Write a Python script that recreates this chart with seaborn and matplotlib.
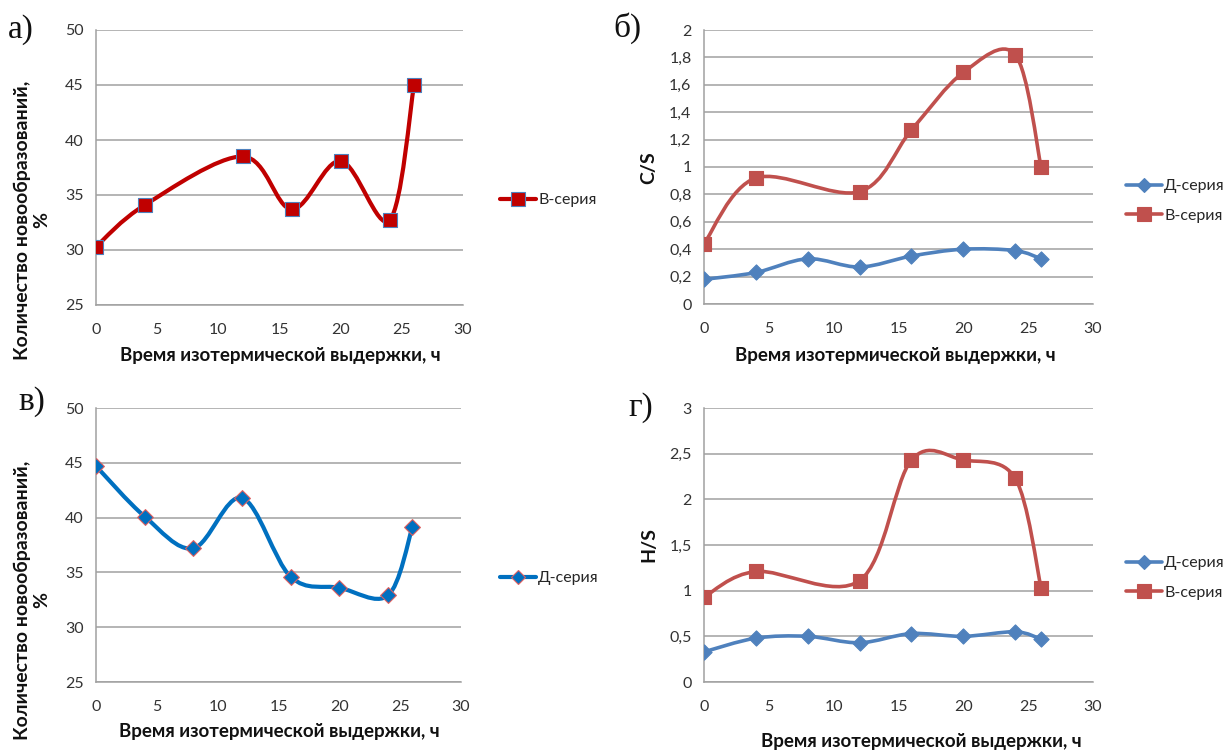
import numpy as np
import pandas as pd
import matplotlib
matplotlib.use("Agg")
import matplotlib.pyplot as plt
import seaborn as sns
from matplotlib.path import Path
from matplotlib.patches import PathPatch
from matplotlib.lines import Line2D
from matplotlib.ticker import FuncFormatter, MultipleLocator

# data
hours_v = [0, 4, 12, 16, 20, 24, 26]
hours_d = [0, 4, 8, 12, 16, 20, 24, 26]

count_v = [30.3, 34.1, 38.5, 33.7, 38.1, 32.7, 45.0]          # а) В-серия
count_d = [44.7, 40.1, 37.2, 41.8, 34.6, 33.6, 32.9, 39.1]    # в) Д-серия

cs_d = [0.18, 0.23, 0.33, 0.27, 0.35, 0.40, 0.39, 0.33]       # б) Д-серия
cs_v = [0.44, 0.92, 0.82, 1.27, 1.69, 1.82, 1.00]             # б) В-серия

hs_d = [0.33, 0.48, 0.50, 0.43, 0.53, 0.50, 0.55, 0.47]       # г) Д-серия
hs_v = [0.93, 1.21, 1.11, 2.43, 2.43, 2.23, 1.03]             # г) В-серия

X_LABEL = "Время изотермической выдержки, ч"
Y_LABEL_COUNT = "Количество новообразований,\n%"

W, H = 1225, 751

sns.set_style("white")
plt.rcParams['font.family'] = ['Lato', 'DejaVu Sans']

fig = plt.figure(figsize=(W / 100, H / 100), dpi=100)


def px_axes(left, top, right, bottom):
    return fig.add_axes([left / W, 1 - bottom / H, (right - left) / W, (bottom - top) / H])


def smooth_path(x, y):
    # excel-style smoothed line: cubic bezier through the points
    pts = np.column_stack([x, y]).astype(float)
    n = len(pts)
    verts = [pts[0]]
    codes = [Path.MOVETO]
    for i in range(n - 1):
        p0 = pts[i - 1] if i > 0 else pts[i]
        p1 = pts[i]
        p2 = pts[i + 1]
        p3 = pts[i + 2] if i + 2 < n else pts[i + 1]
        c1 = p1 + (p2 - p0) / 6
        c2 = p2 - (p3 - p1) / 6
        verts += [c1, c2, p2]
        codes += [Path.CURVE4] * 3
    return Path(verts, codes)


def comma(v, pos):
    return f"{round(v, 2):g}".replace(".", ",")


def style_axes(ax, ymax, ystep):
    ax.set_xlim(0, 30)
    ax.set_ylim(ax.get_ylim()[0], ymax)
    ax.xaxis.set_major_locator(MultipleLocator(5))
    ax.yaxis.set_major_locator(MultipleLocator(ystep))
    ax.yaxis.set_major_formatter(FuncFormatter(comma))
    ax.grid(axis='y', color='#a0a0a0', linewidth=1.1)
    ax.grid(axis='x', visible=False)
    sns.despine(ax=ax)
    for s in ['left', 'bottom']:
        ax.spines[s].set_color('#a0a0a0')
        ax.spines[s].set_linewidth(1.1)
    ax.tick_params(axis='both', direction='out', length=5, width=1.1, color='#a0a0a0',
                   labelsize=11.5, labelcolor='#333333', pad=4)
    ax.tick_params(axis='x', pad=8)
    ax.set_xlabel("")
    ax.set_ylabel("")
    ax.set_axisbelow(True)


def draw_series(ax, x, y, line_color, marker, face, edge, size, lw):
    ax.add_patch(PathPatch(smooth_path(x, y), fill=False, edgecolor=line_color,
                           linewidth=lw, capstyle='round', joinstyle='round', zorder=2))
    sns.scatterplot(x=x, y=y, ax=ax, marker=marker, s=size, color=face,
                    edgecolor=edge, linewidth=0.8, zorder=3, legend=False)


def handle(line_color, marker, face, edge, msize, lw):
    return Line2D([], [], color=line_color, lw=lw, marker=marker, markersize=msize,
                  markerfacecolor=face, markeredgecolor=edge, markeredgewidth=0.8)


def add_legend(ax, handles, labels, x_px, y_px):
    ax.legend(handles=handles, labels=labels, loc='center left',
              bbox_to_anchor=(x_px / W, 1 - y_px / H), bbox_transform=fig.transFigure,
              frameon=False, borderpad=0, borderaxespad=0, handlelength=2.25,
              handletextpad=0.15, labelspacing=0.95, fontsize=11.5)


BLUE = '#4f81bd'
RED = '#c0504d'

# а)
ax_a = px_axes(96, 30, 463, 305)
ax_a.set_ylim(25, 50)
draw_series(ax_a, hours_v, count_v, '#c00000', 's', '#c00000', '#4f81bd', 100, 3)
style_axes(ax_a, 50, 5)
add_legend(ax_a, [handle('#c00000', 's', '#c00000', '#4f81bd', 9.5, 3)], ['В-серия'], 500, 200)

# б)
ax_b = px_axes(704, 30, 1093, 304)
ax_b.set_ylim(0, 2)
draw_series(ax_b, hours_d, cs_d, BLUE, 'D', BLUE, BLUE, 60, 2.6)
draw_series(ax_b, hours_v, cs_v, RED, 's', RED, RED, 115, 2.6)
style_axes(ax_b, 2, 0.2)
add_legend(ax_b, [handle(BLUE, 'D', BLUE, BLUE, 7.5, 2.6), handle(RED, 's', RED, RED, 10, 2.6)],
           ['Д-серия', 'В-серия'], 1126, 201)

# в)
ax_c = px_axes(96, 408, 461, 682)
ax_c.set_ylim(25, 50)
draw_series(ax_c, hours_d, count_d, '#0070c0', 'D', '#0070c0', '#e06060', 65, 3)
style_axes(ax_c, 50, 5)
add_legend(ax_c, [handle('#0070c0', 'D', '#0070c0', '#e06060', 7.5, 3)], ['Д-серия'], 500, 578)

# г)
ax_d = px_axes(704, 408, 1093, 682)
ax_d.set_ylim(0, 3)
draw_series(ax_d, hours_d, hs_d, BLUE, 'D', BLUE, BLUE, 60, 2.6)
draw_series(ax_d, hours_v, hs_v, RED, 's', RED, RED, 115, 2.6)
style_axes(ax_d, 3, 0.5)
add_legend(ax_d, [handle(BLUE, 'D', BLUE, BLUE, 7.5, 2.6), handle(RED, 's', RED, RED, 10, 2.6)],
           ['Д-серия', 'В-серия'], 1126, 578)

# axis titles
lab = dict(fontweight='bold', fontsize=13.5, color='#111111')
fig.text(280 / W, 1 - 355 / H, X_LABEL, ha='center', va='center', **lab)
fig.text(895 / W, 1 - 355 / H, X_LABEL, ha='center', va='center', **lab)
fig.text(279 / W, 1 - 732 / H, X_LABEL, ha='center', va='center', **lab)
fig.text(921 / W, 1 - 741 / H, X_LABEL, ha='center', va='center', **lab)

ylab = dict(fontweight='bold', fontsize=14, color='#111111')
fig.text(32 / W, 1 - 220 / H, Y_LABEL_COUNT, rotation=90, ha='center', va='center',
         multialignment='center', linespacing=1.2, **ylab)
fig.text(32 / W, 1 - 600 / H, Y_LABEL_COUNT, rotation=90, ha='center', va='center',
         multialignment='center', linespacing=1.2, **ylab)
fig.text(649 / W, 1 - 168 / H, "C/S", rotation=90, ha='center', va='center', **ylab)
fig.text(649 / W, 1 - 545 / H, "H/S", rotation=90, ha='center', va='center', **ylab)

# panel letters
let = dict(family='Liberation Serif', fontsize=24, ha='left', va='center', color='#111111')
fig.text(8 / W, 1 - 30 / H, "а)", **let)
fig.text(613 / W, 1 - 28 / H, "б)", **let)
fig.text(18 / W, 1 - 402 / H, "в)", **let)
fig.text(628 / W, 1 - 408 / H, "г)", **let)

fig.savefig("out.png", dpi=100, facecolor='white')
